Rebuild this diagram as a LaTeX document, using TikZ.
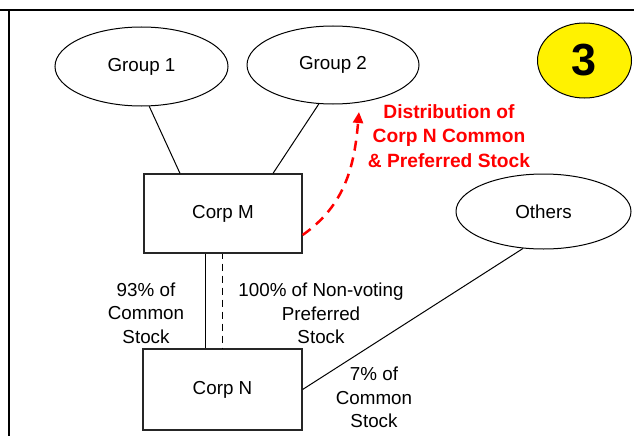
\documentclass[tikz,border=0pt]{standalone}
\usepackage{fontspec}
\setmainfont{Liberation Sans}
\usetikzlibrary{shapes.geometric,arrows.meta}
\begin{document}
\begin{tikzpicture}[x=1pt,y=-1pt,
  every node/.style={font=\fontsize{18.8}{23.5}\selectfont},
  oval/.style={draw,ellipse,line width=1pt,inner sep=0},
  box/.style={draw=black!85,rectangle,line width=1.2pt,inner sep=0},
  lbl/.style={align=center,inner sep=0},
  conn/.style={line width=1pt},
  redlbl/.style={align=center,inner sep=0,text=red,font=\bfseries\fontsize{19.2}{24.5}\selectfont}]
\useasboundingbox (0,0) rectangle (634,436);
% frame
\draw[line width=2pt] (0,10) -- (634,10);
\draw[line width=2pt] (8.5,10) -- (8.5,436);
% nodes
\node[oval,minimum width=173pt,minimum height=79pt] (g1) at (141.5,66.5) {Group 1};
\node[oval,minimum width=172pt,minimum height=78pt] (g2) at (333,65) {Group 2};
\node[oval,fill=yellow,minimum width=94pt,minimum height=75pt,font=\bfseries\fontsize{45}{45}\selectfont] (three) at (584.5,60.5) {3};
\node[oval,minimum width=175pt,minimum height=75pt] (others) at (543.5,211.5) {Others};
\node[box,minimum width=158pt,minimum height=79pt] (m) at (223,213.5) {Corp M};
\node[box,minimum width=159pt,minimum height=81pt] (n) at (222.5,389.5) {Corp N};
% connectors
\draw[conn] (g1.-79.5) -- ([xshift=-43pt]m.north);
\draw[conn] (g2.-110.6) -- ([xshift=50pt]m.north);
\draw[conn] ([xshift=-18pt]m.south) -- ([xshift=-18pt]m.south |- n.north);
\draw[conn,dash pattern=on 7pt off 5pt,dash phase=-10pt] ([xshift=-1pt]m.south) -- ([xshift=-1pt]m.south |- n.north);
\draw[conn] (n.east) -- (others.-119.8);
% red arrow
\coordinate (tip) at (359,112);
\draw[red,line width=2.5pt,dash pattern=on 10pt off 7pt,-{Triangle[length=11pt,width=10pt]}]
  ([yshift=-21.5pt]m.east) to[out=35,in=-95] (tip);
% labels
\node[redlbl] (dist) at (449,136) {Distribution of\\Corp N Common\\\& Preferred Stock};
\node[lbl] (l93) at (146,313) {93\% of\\Common\\Stock};
\node[lbl] (l100) at (321,313.5) {100\% of Non-voting\\Preferred\\Stock};
\node[lbl] (l7) at (374,397.5) {7\% of\\Common\\Stock};
\end{tikzpicture}
\end{document}
